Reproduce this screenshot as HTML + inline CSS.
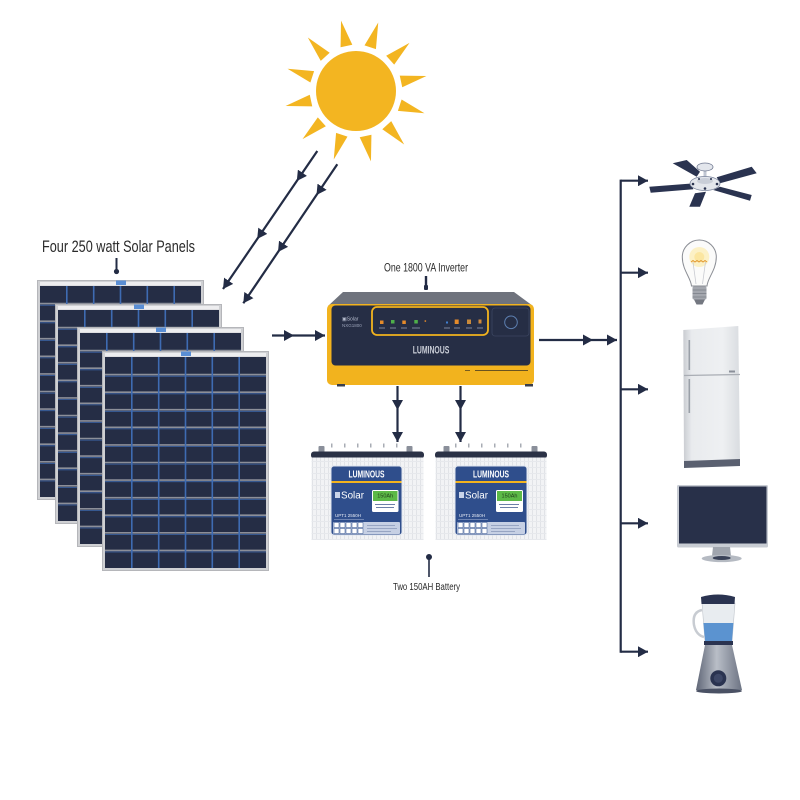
<!DOCTYPE html>
<html><head><meta charset="utf-8"><style>
html,body{margin:0;padding:0;background:#fff;}
svg{display:block;}
</style></head><body>
<svg width="800" height="800" viewBox="0 0 800 800" xmlns="http://www.w3.org/2000/svg" font-family="Liberation Sans, Arial, sans-serif">
<defs>
<marker id="ah" markerUnits="userSpaceOnUse" markerWidth="10" markerHeight="11" refX="10" refY="5.5" orient="auto" viewBox="0 0 10 11">
<path d="M0,0 L10,5.5 L0,11 Z" fill="#232c45"/>
</marker>
<g id="panel">
<rect x="0" y="0" width="167" height="220" fill="#cfd0d3"/>
<rect x="0.5" y="0.5" width="166" height="219" fill="none" stroke="#b5b6ba"/>
<rect x="3" y="2" width="161" height="3.5" fill="#ededef"/>
<rect x="3" y="6" width="161" height="211" fill="#252d45"/>
<rect x="79" y="0.5" width="10" height="4.5" fill="#5a8ed4"/>
<g stroke="#8c8f99" stroke-width="1.6">
<line x1="3" y1="23.6" x2="164" y2="23.6"/><line x1="3" y1="41.2" x2="164" y2="41.2"/>
<line x1="3" y1="58.7" x2="164" y2="58.7"/><line x1="3" y1="76.3" x2="164" y2="76.3"/>
<line x1="3" y1="93.9" x2="164" y2="93.9"/><line x1="3" y1="111.5" x2="164" y2="111.5"/>
<line x1="3" y1="129.1" x2="164" y2="129.1"/><line x1="3" y1="146.7" x2="164" y2="146.7"/>
<line x1="3" y1="164.2" x2="164" y2="164.2"/><line x1="3" y1="181.8" x2="164" y2="181.8"/>
<line x1="3" y1="199.4" x2="164" y2="199.4"/>
</g>
<g stroke="#3d66aa" stroke-width="0.8">
<line x1="3" y1="25.2" x2="164" y2="25.2"/><line x1="3" y1="42.8" x2="164" y2="42.8"/>
<line x1="3" y1="60.3" x2="164" y2="60.3"/><line x1="3" y1="77.9" x2="164" y2="77.9"/>
<line x1="3" y1="95.5" x2="164" y2="95.5"/><line x1="3" y1="113.1" x2="164" y2="113.1"/>
<line x1="3" y1="130.7" x2="164" y2="130.7"/><line x1="3" y1="148.3" x2="164" y2="148.3"/>
<line x1="3" y1="165.8" x2="164" y2="165.8"/><line x1="3" y1="183.4" x2="164" y2="183.4"/>
<line x1="3" y1="201" x2="164" y2="201"/>
</g>
<g stroke="#3e6bb2" stroke-width="1.6">
<line x1="29.8" y1="6" x2="29.8" y2="217"/><line x1="56.7" y1="6" x2="56.7" y2="217"/>
<line x1="83.5" y1="6" x2="83.5" y2="217"/><line x1="110.3" y1="6" x2="110.3" y2="217"/>
<line x1="137.2" y1="6" x2="137.2" y2="217"/>
</g>
</g>
<pattern id="rib" width="4" height="6" patternUnits="userSpaceOnUse">
<rect width="4" height="6" fill="#f2f3f5"/><rect x="0" y="0" width="1" height="6" fill="#e1e3e7"/><rect x="0" y="5" width="4" height="1" fill="#e6e8ec"/>
</pattern>
<linearGradient id="fg" x1="0" y1="0" x2="1" y2="0">
<stop offset="0" stop-color="#c9ccd1"/><stop offset="0.15" stop-color="#e9ebee"/><stop offset="0.7" stop-color="#eef0f2"/><stop offset="1" stop-color="#d9dce0"/>
</linearGradient>
<linearGradient id="bg" x1="0" y1="0" x2="1" y2="0">
<stop offset="0" stop-color="#5f6676"/><stop offset="0.45" stop-color="#b9bec7"/><stop offset="1" stop-color="#6c7383"/>
</linearGradient>
</defs>

<!-- Sun -->
<g transform="translate(356,91)" fill="#f3b521">
<circle r="40"/>
<polygon points="-6,-46 6,-46 0,-72" transform="rotate(-12)"/>
<polygon points="-6,-46 6,-46 0,-72" transform="rotate(18)"/>
<polygon points="-6,-46 6,-46 0,-72" transform="rotate(48)"/>
<polygon points="-6,-46 6,-46 0,-72" transform="rotate(78)"/>
<polygon points="-6,-46 6,-46 0,-72" transform="rotate(108)"/>
<polygon points="-6,-46 6,-46 0,-72" transform="rotate(138)"/>
<polygon points="-6,-46 6,-46 0,-72" transform="rotate(168)"/>
<polygon points="-6,-46 6,-46 0,-72" transform="rotate(198)"/>
<polygon points="-6,-46 6,-46 0,-72" transform="rotate(228)"/>
<polygon points="-6,-46 6,-46 0,-72" transform="rotate(258)"/>
<polygon points="-6,-46 6,-46 0,-72" transform="rotate(288)"/>
<polygon points="-6,-46 6,-46 0,-72" transform="rotate(318)"/>
</g>

<!-- Panels -->
<use href="#panel" transform="translate(37,280)"/>
<use href="#panel" transform="translate(55,304)"/>
<use href="#panel" transform="translate(77,327)"/>
<use href="#panel" transform="translate(102,351)"/>

<text x="42" y="252" font-size="17" fill="#2a2a2a" textLength="153" lengthAdjust="spacingAndGlyphs">Four 250 watt Solar Panels</text>
<line x1="116.5" y1="258" x2="116.5" y2="271" stroke="#232c45" stroke-width="2"/>
<circle cx="116.5" cy="271.5" r="2.6" fill="#232c45"/>

<!-- Connectors -->
<g stroke="#232c45" stroke-width="2.2" fill="none">
<polyline points="317.3,151 296.8,181 257.2,239 223,289" marker-mid="url(#ah)" marker-end="url(#ah)"/>
<polyline points="337.3,164.3 316.5,195 278,252 243.3,303.3" marker-mid="url(#ah)" marker-end="url(#ah)"/>
<polyline points="272,335.5 294,335.5 325,335.5" marker-mid="url(#ah)" marker-end="url(#ah)"/>
<polyline points="539,340 593,340 617,340" marker-mid="url(#ah)" marker-end="url(#ah)"/>
<polyline points="397.5,386 397.5,410 397.5,442" marker-mid="url(#ah)" marker-end="url(#ah)"/>
<polyline points="460.5,386 460.5,410 460.5,442" marker-mid="url(#ah)" marker-end="url(#ah)"/>
<line x1="620.7" y1="179.6" x2="620.7" y2="652.8"/>
<line x1="620.7" y1="180.7" x2="648" y2="180.7" marker-end="url(#ah)"/>
<line x1="620.7" y1="272.7" x2="648" y2="272.7" marker-end="url(#ah)"/>
<line x1="620.7" y1="389.3" x2="648" y2="389.3" marker-end="url(#ah)"/>
<line x1="620.7" y1="523.3" x2="648" y2="523.3" marker-end="url(#ah)"/>
<line x1="620.7" y1="651.7" x2="648" y2="651.7" marker-end="url(#ah)"/>
</g>

<!-- Inverter -->
<text x="384" y="271.5" font-size="11.5" fill="#2a2a2a" textLength="84" lengthAdjust="spacingAndGlyphs">One 1800 VA Inverter</text>
<line x1="426" y1="276" x2="426" y2="289" stroke="#232c45" stroke-width="2.4"/>
<rect x="424" y="285" width="4" height="5" rx="1" fill="#232c45"/>
<path d="M343,292 L514,292 L533,306 L328,306 Z" fill="#6f737d"/>
<rect x="327" y="304" width="207" height="81" rx="5" fill="#f2b31e"/>
<rect x="331.5" y="305.5" width="199" height="60" rx="4" fill="#262e45"/>
<rect x="372" y="307" width="116" height="28" rx="5" fill="none" stroke="#f2b31e" stroke-width="1.8"/>
<rect x="492" y="308" width="37" height="28" rx="3" fill="none" stroke="#3b4560" stroke-width="0.8"/>
<circle cx="511" cy="322.3" r="6.3" fill="none" stroke="#5d7fb0" stroke-width="1"/>
<rect x="380" y="320.5" width="3.5" height="3.5" fill="#e58b2a"/>
<rect x="391" y="320" width="3.5" height="3.5" fill="#4fb04a"/>
<rect x="402.3" y="320.5" width="3.5" height="3.5" fill="#e58b2a"/>
<rect x="414.3" y="320" width="3.5" height="3.5" fill="#4fb04a"/>
<rect x="424.6" y="320.3" width="1.5" height="1.5" fill="#e58b2a"/>
<rect x="446" y="321.5" width="2" height="2" fill="#3f7fd0"/>
<rect x="454.7" y="319.5" width="4" height="4.5" fill="#e58b2a"/>
<rect x="467" y="319.5" width="4" height="4.5" fill="#c98a3a"/>
<rect x="478.5" y="319.5" width="3" height="4" fill="#d28a3a"/>
<g fill="#7c849a">
<rect x="379" y="327.5" width="6" height="1"/><rect x="390" y="327.5" width="6" height="1"/>
<rect x="401" y="327.5" width="6" height="1"/><rect x="412" y="327.5" width="8" height="1"/>
<rect x="444" y="327.5" width="6" height="1"/><rect x="454" y="327.5" width="6" height="1"/>
<rect x="466" y="327.5" width="6" height="1"/><rect x="477" y="327.5" width="6" height="1"/>
</g>
<text x="342" y="320.5" font-size="5" fill="#b8bed0">&#9635;Solar</text>
<text x="342" y="327" font-size="4.5" fill="#9aa2b8">NXG1800</text>
<text x="431" y="353.3" text-anchor="middle" font-size="11" font-weight="bold" fill="#c8ccd6" textLength="36.6" lengthAdjust="spacingAndGlyphs">LUMINOUS</text>
<line x1="475" y1="370.5" x2="528" y2="370.5" stroke="#6a5420" stroke-width="0.9"/>
<line x1="465" y1="370.5" x2="470" y2="370.5" stroke="#6a5420" stroke-width="0.9"/>
<rect x="337" y="384" width="8" height="2.5" fill="#3a3f4c"/>
<rect x="525" y="384" width="8" height="2.5" fill="#3a3f4c"/>

<!-- Battery 1 -->
<g>
<g fill="#a8acb4">
<rect x="331" y="443.5" width="1.5" height="4"/><rect x="344" y="443.5" width="1.5" height="4"/>
<rect x="357" y="443.5" width="1.5" height="4"/><rect x="370" y="443.5" width="1.5" height="4"/>
<rect x="383" y="443.5" width="1.5" height="4"/><rect x="396" y="443.5" width="1.5" height="4"/>
</g>
<rect x="318.5" y="446" width="6" height="7" rx="1" fill="#8a8f9a"/>
<rect x="406.5" y="446" width="6" height="7" rx="1" fill="#8a8f9a"/>
<rect x="311" y="451.5" width="113" height="7" rx="3" fill="#2b3246"/>
<rect x="311.5" y="457.5" width="112" height="82.5" fill="url(#rib)"/>
<rect x="331" y="466" width="71" height="69" rx="3" fill="#2f4e8c" stroke="#dfe4ee" stroke-width="1"/>
<text x="366.5" y="477.5" text-anchor="middle" font-size="10" font-weight="bold" fill="#fff" textLength="36" lengthAdjust="spacingAndGlyphs">LUMINOUS</text>
<rect x="331.5" y="481" width="70" height="2" fill="#f2b31e"/>
<rect x="335" y="492" width="5" height="6" fill="#c9d4ea"/>
<text x="341" y="498.5" font-size="10" fill="#fff" textLength="23" lengthAdjust="spacingAndGlyphs">Solar</text>
<rect x="372" y="490" width="26.5" height="22" rx="1.5" fill="#fff"/>
<rect x="373" y="491" width="24.5" height="10" fill="#5cb947"/>
<text x="385.2" y="497.5" text-anchor="middle" font-size="5.5" fill="#1e3a1a">150Ah</text>
<rect x="375" y="504" width="20" height="1" fill="#6c7fa8"/><rect x="376" y="507" width="18" height="1" fill="#6c7fa8"/>
<text x="335" y="517" font-size="4.5" fill="#e6ebf5">UPT1 2550H</text>
<rect x="334" y="519" width="30" height="0.8" fill="#7d91bd"/>
<rect x="333" y="522" width="67" height="12" rx="1" fill="#c6d0e4"/>
<g fill="#fff" stroke="#2f4e8c" stroke-width="0.5">
<rect x="334" y="522.5" width="5" height="5"/><rect x="340" y="522.5" width="5" height="5"/><rect x="346" y="522.5" width="5" height="5"/><rect x="352" y="522.5" width="5" height="5"/><rect x="358" y="522.5" width="5" height="5"/>
<rect x="334" y="528.5" width="5" height="5"/><rect x="340" y="528.5" width="5" height="5"/><rect x="346" y="528.5" width="5" height="5"/><rect x="352" y="528.5" width="5" height="5"/><rect x="358" y="528.5" width="5" height="5"/>
</g>
<g fill="#8c9bbb"><rect x="367" y="525" width="28" height="0.8"/><rect x="367" y="528" width="30" height="0.8"/><rect x="367" y="531" width="24" height="0.8"/></g>
</g>

<!-- Battery 2 -->
<g>
<g fill="#a8acb4">
<rect x="455" y="443.5" width="1.5" height="4"/><rect x="468" y="443.5" width="1.5" height="4"/>
<rect x="481" y="443.5" width="1.5" height="4"/><rect x="494" y="443.5" width="1.5" height="4"/>
<rect x="507" y="443.5" width="1.5" height="4"/><rect x="520" y="443.5" width="1.5" height="4"/>
</g>
<rect x="443.5" y="446" width="6" height="7" rx="1" fill="#8a8f9a"/>
<rect x="531.5" y="446" width="6" height="7" rx="1" fill="#8a8f9a"/>
<rect x="435" y="451.5" width="112" height="7" rx="3" fill="#2b3246"/>
<rect x="435.5" y="457.5" width="111" height="82.5" fill="url(#rib)"/>
<rect x="455" y="466" width="72" height="69" rx="3" fill="#2f4e8c" stroke="#dfe4ee" stroke-width="1"/>
<text x="491" y="477.5" text-anchor="middle" font-size="10" font-weight="bold" fill="#fff" textLength="36" lengthAdjust="spacingAndGlyphs">LUMINOUS</text>
<rect x="455.5" y="481" width="71" height="2" fill="#f2b31e"/>
<rect x="459" y="492" width="5" height="6" fill="#c9d4ea"/>
<text x="465" y="498.5" font-size="10" fill="#fff" textLength="23" lengthAdjust="spacingAndGlyphs">Solar</text>
<rect x="496" y="490" width="27" height="22" rx="1.5" fill="#fff"/>
<rect x="497" y="491" width="25" height="10" fill="#5cb947"/>
<text x="509.5" y="497.5" text-anchor="middle" font-size="5.5" fill="#1e3a1a">150Ah</text>
<rect x="499" y="504" width="20" height="1" fill="#6c7fa8"/><rect x="500" y="507" width="18" height="1" fill="#6c7fa8"/>
<text x="459" y="517" font-size="4.5" fill="#e6ebf5">UPT1 2550H</text>
<rect x="458" y="519" width="30" height="0.8" fill="#7d91bd"/>
<rect x="457" y="522" width="68" height="12" rx="1" fill="#c6d0e4"/>
<g fill="#fff" stroke="#2f4e8c" stroke-width="0.5">
<rect x="458" y="522.5" width="5" height="5"/><rect x="464" y="522.5" width="5" height="5"/><rect x="470" y="522.5" width="5" height="5"/><rect x="476" y="522.5" width="5" height="5"/><rect x="482" y="522.5" width="5" height="5"/>
<rect x="458" y="528.5" width="5" height="5"/><rect x="464" y="528.5" width="5" height="5"/><rect x="470" y="528.5" width="5" height="5"/><rect x="476" y="528.5" width="5" height="5"/><rect x="482" y="528.5" width="5" height="5"/>
</g>
<g fill="#8c9bbb"><rect x="491" y="525" width="28" height="0.8"/><rect x="491" y="528" width="30" height="0.8"/><rect x="491" y="531" width="24" height="0.8"/></g>
</g>

<circle cx="429" cy="557" r="3" fill="#232c45"/>
<line x1="429" y1="557" x2="429" y2="577" stroke="#232c45" stroke-width="1.6"/>
<text x="393" y="590" font-size="10" fill="#2a2a2a" textLength="67" lengthAdjust="spacingAndGlyphs">Two 150AH Battery</text>

<!-- Fan -->
<g fill="#2a3350">
<polygon points="672.7,163.3 686.7,160 700,171.7 696.7,176.7"/>
<polygon points="649.3,186.7 691.7,183.5 693.3,189.3 650.7,192.7"/>
<polygon points="689.3,206.7 695,193.3 706,191.7 700,206.7"/>
<polygon points="713.3,190 720,186.7 751.7,195 750,200.7"/>
<polygon points="716.7,177.3 751.7,166.7 756.7,173.3 720,183.3"/>
</g>
<rect x="703.5" y="169" width="3" height="9" fill="#c0c6d2"/>
<ellipse cx="705" cy="167" rx="8" ry="4" fill="#e3e6ec" stroke="#6f7890" stroke-width="0.8"/>
<ellipse cx="705" cy="183.5" rx="15" ry="7" fill="#e3e6ec" stroke="#7a849c" stroke-width="0.8"/>
<ellipse cx="705" cy="181" rx="8" ry="3" fill="#c9ced8"/>
<g fill="#2a3350"><circle cx="693" cy="184" r="1.3"/><circle cx="717" cy="184" r="1.3"/><circle cx="705" cy="188.5" r="1.3"/><circle cx="699" cy="179" r="1"/><circle cx="711" cy="179" r="1"/></g>

<!-- Bulb -->
<path d="M691.5,286 C691,278 682.3,270 682.3,257 A17,17 0 1 1 716.3,257 C716.3,270 707.5,278 707,286 Z" fill="#fbfbfa" stroke="#8a8d94" stroke-width="1"/>
<circle cx="699.3" cy="257" r="10" fill="#fcefc0" opacity="0.9"/>
<circle cx="699.3" cy="257" r="5" fill="#fbe6a0"/>
<polyline points="691,262 693,260.5 695,262 697,260.5 699,262 701,260.5 703,262 705,260.5 707,262" fill="none" stroke="#e29a32" stroke-width="1"/>
<path d="M693,262 L696,284 M705.5,262 L702.5,284" stroke="#c8cad0" stroke-width="0.8" fill="none"/>
<rect x="692.5" y="286.5" width="14" height="13" rx="1.5" fill="#a4a7ae"/>
<g stroke="#7d8088" stroke-width="0.8"><line x1="692.5" y1="290" x2="706.5" y2="290"/><line x1="692.5" y1="293.5" x2="706.5" y2="293.5"/><line x1="692.5" y1="297" x2="706.5" y2="297"/></g>
<path d="M694,299.5 L705,299.5 L702.5,304.5 L696.5,304.5 Z" fill="#737780"/>

<!-- Fridge -->
<path d="M683.3,330 L738.3,326 L740,462 L684,465 Z" fill="url(#fg)"/>
<line x1="684" y1="375.5" x2="740" y2="374.5" stroke="#a9adb4" stroke-width="1.3"/>
<rect x="688.5" y="340" width="1.6" height="30" fill="#9aa0a8"/>
<rect x="688.5" y="379" width="1.6" height="34" fill="#9aa0a8"/>
<rect x="729" y="370.5" width="6" height="2" fill="#8a8f99"/>
<path d="M684,461 L740,459 L740,466 L684,468 Z" fill="#5a6070"/>

<!-- TV -->
<rect x="677" y="485" width="91" height="62.5" rx="1.5" fill="#c8ccd3"/>
<rect x="679" y="486.5" width="87.5" height="57" fill="#283049"/>
<path d="M713,547 L730,547 L731,556 L712,556 Z" fill="#a0a5ae"/>
<ellipse cx="721.7" cy="558.5" rx="20" ry="3.6" fill="#b5bac2"/>
<ellipse cx="721.7" cy="558" rx="9" ry="2" fill="#3a4258"/>

<!-- Blender -->
<path d="M702,610 Q692,612 694,625 Q696,635 704,637" fill="none" stroke="#c8ccd2" stroke-width="2.5"/>
<path d="M702,603 L735,603 L732,642 L705,642 Z" fill="#e8ecf0" stroke="#c0c5cc" stroke-width="0.6"/>
<path d="M703.4,623 L733.4,623 L731.9,642 L705.2,642 Z" fill="#5b93d0"/>
<path d="M701,597 Q718,592 735,597 L734.5,604 L701.5,604 Z" fill="#2a3350"/>
<rect x="704" y="641" width="29" height="4" fill="#2a3350"/>
<path d="M705,645 L732,645 L742,690 L696,690 Z" fill="url(#bg)"/>
<circle cx="718.3" cy="678.3" r="8" fill="#2a3350"/>
<circle cx="718.3" cy="678.3" r="4.5" fill="#3d4766"/>
<ellipse cx="719" cy="691" rx="23" ry="2.5" fill="#4a5164"/>
</svg>
</body></html>
